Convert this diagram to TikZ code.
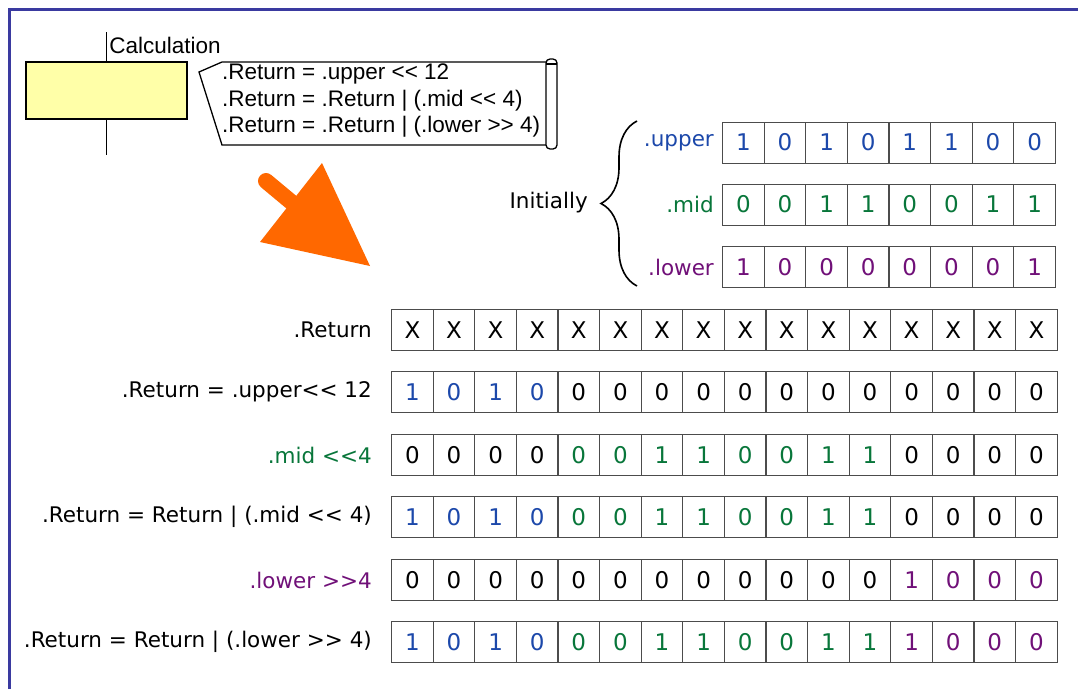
\documentclass[tikz,border=0pt]{standalone}
\usepackage{fontspec}
\setmainfont{DejaVu Sans}[Ligatures=TeXOff]
\newfontfamily\calcfont{Liberation Sans}[Ligatures=TeXOff]
\usepackage{xcolor}
\usetikzlibrary{positioning,decorations.pathreplacing}
\definecolor{FBlue}{RGB}{58,58,160}
\definecolor{UBlue}{RGB}{28,72,170}
\definecolor{MGreen}{RGB}{8,118,58}
\definecolor{LPurple}{RGB}{112,16,120}
\definecolor{NYellow}{RGB}{255,255,168}
\definecolor{AOrange}{RGB}{255,104,0}

\tikzset{
  bit/.style={draw=black!70, line width=1.2pt, minimum width=41.6pt,
    minimum height=41pt, inner sep=0pt, anchor=north west,
    font=\fontsize{23}{27}\selectfont},
  rowlabel/.style={font=\fontsize{21.5}{25}\selectfont, inner sep=0pt},
}

% a row of bit cells: name, left edge, top edge, colour/value pairs
\newcommand{\bitrow}[4]{%
  \foreach \c/\v [count=\i from 0] in {#4}
    \node[bit, text=\c] (#1-\i) at ({#2+\i*41.6}, #3) {\v};
}

\begin{document}
\begin{tikzpicture}[x=1pt, y=-1pt]
  \useasboundingbox (0,0) rectangle (1078,689);
  \draw[FBlue, line width=3pt] (9.5,689) -- (9.5,9.5) -- (1078,9.5);

  % step with its calculation note
  \node[draw, line width=1.5pt, fill=NYellow, anchor=north west,
    minimum width=161pt, minimum height=57pt] (calc) at (25,61) {};
  \draw[line width=1.5pt] (calc.north) -- ++(0,-29) coordinate (top);
  \draw[line width=1.5pt] (calc.south) -- ++(0,35);
  \node[anchor=west, inner sep=0pt, font=\calcfont\fontsize{22.5}{26}\selectfont]
    (calcname) at ([xshift=3pt, yshift=-13pt]top) {Calculation};
  \draw[line width=1.3pt] (548,62) -- (222,62) -- (199,72) -- (222,145) -- (548,145);
  \draw[line width=1.3pt, fill=white, rounded corners=4pt] (546,59) rectangle (557,149);
  \draw[line width=1.1pt] (546,64) -- (557,64);
  \node[anchor=west, align=left, inner sep=0pt,
    font=\calcfont\fontsize{22.5}{26.5}\selectfont] (code) at (222,101)
    {.Return = .upper << 12\\.Return = .Return | (.mid << 4)\\.Return = .Return | (.lower >> 4)};

  % orange pointer
  \coordinate (tail) at (266,181);
  \coordinate (neck) at (296,206);
  \draw[AOrange, line width=16pt, line cap=round] (tail) -- (neck);
  \fill[AOrange] (322,163) -- (370,266) -- (260,242) -- cycle;

  % initial fields
  \bitrow{up}{722}{121.5}{UBlue/1,UBlue/0,UBlue/1,UBlue/0,UBlue/1,UBlue/1,UBlue/0,UBlue/0}
  \bitrow{mid}{722}{183.5}{MGreen/0,MGreen/0,MGreen/1,MGreen/1,MGreen/0,MGreen/0,MGreen/1,MGreen/1}
  \bitrow{low}{722}{246}{LPurple/1,LPurple/0,LPurple/0,LPurple/0,LPurple/0,LPurple/0,LPurple/0,LPurple/1}
  \node[rowlabel, text=UBlue, left=8pt of up-0] {.upper};
  \node[rowlabel, text=MGreen, left=8pt of mid-0] {.mid};
  \node[rowlabel, text=LPurple, left=8pt of low-0] {.lower};
  \draw[decorate, decoration={brace, amplitude=36pt}, line width=1.6pt]
    (637,286) -- (637,121);
  \coordinate (tip) at (600,203);
  \node[rowlabel, left=12pt of tip] (init) {Initially};

  % result rows
  \bitrow{ret}{391}{309}{black/X,black/X,black/X,black/X,black/X,black/X,black/X,black/X,black/X,black/X,black/X,black/X,black/X,black/X,black/X,black/X}
  \bitrow{shu}{391}{371}{UBlue/1,UBlue/0,UBlue/1,UBlue/0,black/0,black/0,black/0,black/0,black/0,black/0,black/0,black/0,black/0,black/0,black/0,black/0}
  \bitrow{shm}{391}{434}{black/0,black/0,black/0,black/0,MGreen/0,MGreen/0,MGreen/1,MGreen/1,MGreen/0,MGreen/0,MGreen/1,MGreen/1,black/0,black/0,black/0,black/0}
  \bitrow{orm}{391}{496}{UBlue/1,UBlue/0,UBlue/1,UBlue/0,MGreen/0,MGreen/0,MGreen/1,MGreen/1,MGreen/0,MGreen/0,MGreen/1,MGreen/1,black/0,black/0,black/0,black/0}
  \bitrow{shl}{391}{559}{black/0,black/0,black/0,black/0,black/0,black/0,black/0,black/0,black/0,black/0,black/0,black/0,LPurple/1,LPurple/0,LPurple/0,LPurple/0}
  \bitrow{orl}{391}{621}{UBlue/1,UBlue/0,UBlue/1,UBlue/0,MGreen/0,MGreen/0,MGreen/1,MGreen/1,MGreen/0,MGreen/0,MGreen/1,MGreen/1,LPurple/1,LPurple/0,LPurple/0,LPurple/0}
  \node[rowlabel, left=19pt of ret-0] {.Return};
  \node[rowlabel, left=19pt of shu-0] {.Return = .upper<< 12};
  \node[rowlabel, text=MGreen, left=19pt of shm-0] {.mid <<4};
  \node[rowlabel, left=19pt of orm-0] {.Return = Return | (.mid << 4)};
  \node[rowlabel, text=LPurple, left=19pt of shl-0] {.lower >>4};
  \node[rowlabel, left=19pt of orl-0] {.Return = Return | (.lower >> 4)};
\end{tikzpicture}
\end{document}
